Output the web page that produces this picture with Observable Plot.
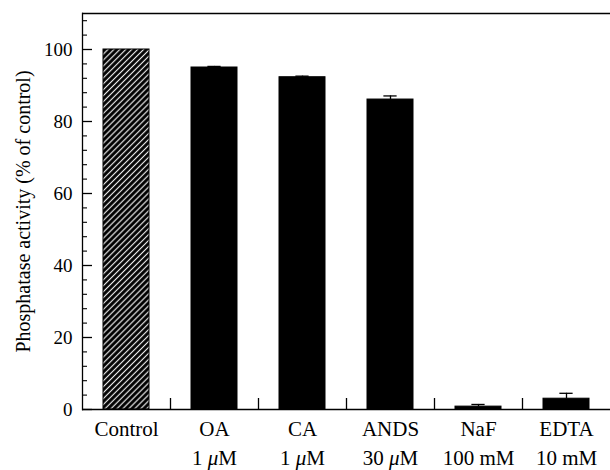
<!DOCTYPE html>
<html>
<head>
<meta charset="utf-8">
<script src="https://cdn.jsdelivr.net/npm/d3@7"></script>
<script src="https://cdn.jsdelivr.net/npm/@observablehq/plot@0.6"></script>
<style>
  body { margin: 0; background: #fff; }
  #chart svg { display: block; }
</style>
</head>
<body>
<div id="chart"></div>
<script>
// ---- data ----
const categories = ["Control", "OA", "CA", "ANDS", "NaF", "EDTA"];
const concentrations = ["", "1 μM", "1 μM", "30 μM", "100 mM", "10 mM"];
const activity = [100, 95.0, 92.3, 86.1, 0.8, 3.0];
const errorUp = [0, 0.3, 0.3, 1.0, 0.6, 1.5];
const yMajorTicks = [0, 20, 40, 60, 80, 100];
const yMinorTicks = [4, 8, 12, 16, 24, 28, 32, 36, 44, 48, 52, 56, 64, 68, 72, 76, 84, 88, 92, 96, 104, 108];
const yLabel = "Phosphatase activity (% of control)";

// ---- layout ----
const W = 610, H = 470;
const mL = 82, mR = 0, mT = 13, mB = 61;
const plotW = W - mL - mR, plotH = H - mT - mB;
const step = plotW / categories.length;
const padInner = 0.48;
const bandW = step * (1 - padInner);
const capW = 13;
const FONT = "'Liberation Serif', 'Times New Roman', serif";

const data = categories.map((c, i) => ({
  cat: c, value: activity[i], err: errorUp[i], hi: activity[i] + errorUp[i], conc: concentrations[i]
}));
const errData = data.filter(d => d.err > 0);

const chart = Plot.plot({
  width: W, height: H,
  marginLeft: mL, marginRight: mR, marginTop: mT, marginBottom: mB,
  style: { fontFamily: FONT, fontSize: "19px", color: "#000", background: "#fff" },
  x: { type: "band", domain: categories, paddingInner: padInner, paddingOuter: padInner / 2, axis: null },
  y: { domain: [0, 110], axis: null },
  marks: [
    // bars
    Plot.barY(data.filter(d => d.cat === "Control"), { x: "cat", y: "value", fill: "url(#hatch)", stroke: "#000", strokeWidth: 1 }),
    Plot.barY(data.filter(d => d.cat !== "Control"), { x: "cat", y: "value", fill: "#000", stroke: "#000", strokeWidth: 1 }),
    // error bars (upper only)
    Plot.ruleX(errData, { x: "cat", y1: "value", y2: "hi", stroke: "#000", strokeWidth: 1.3 }),
    Plot.tickY(errData, { x: "cat", y: "hi", stroke: "#000", strokeWidth: 1.3, insetLeft: (bandW - capW) / 2, insetRight: (bandW - capW) / 2 }),
    // frame: left, top, bottom
    Plot.frame({ anchor: "left", stroke: "#000", strokeWidth: 1.3 }),
    Plot.ruleY([0, 110], { stroke: "#000", strokeWidth: 1.3 }),
    // inward y ticks
    Plot.ruleY(yMajorTicks, { y: d => d, insetRight: plotW - 10, stroke: "#000", strokeWidth: 1.3 }),
    Plot.ruleY(yMinorTicks, { y: d => d, insetRight: plotW - 5, stroke: "#000", strokeWidth: 1.1 }),
    // x separator ticks
    Plot.ruleX(categories.slice(1), { x: d => d, dx: -step / 2, insetTop: plotH - 11, stroke: "#000", strokeWidth: 1.3 }),
    // y tick labels
    Plot.text(yMajorTicks, { y: d => d, text: d => String(d), frameAnchor: "left", textAnchor: "end", dx: -10, fill: "#000", fontSize: 19 }),
    // y label
    Plot.text([yLabel], { text: d => d, frameAnchor: "left", textAnchor: "middle", lineAnchor: "middle", rotate: -90, dx: -59, fill: "#000", fontSize: 20 }),
    // x labels, two lines
    Plot.text(data, { x: "cat", text: "cat", frameAnchor: "bottom", lineAnchor: "top", dy: 12, fill: "#000", fontSize: 21 }),
    Plot.text(data.filter(d => d.conc), { x: "cat", text: "conc", frameAnchor: "bottom", lineAnchor: "top", dy: 40.5, fill: "#000", fontSize: 21 })
  ]
});

// hatch pattern for the control bar
const svgSel = d3.select(chart);
const defs = svgSel.insert("defs", ":first-child");
const pat = defs.append("pattern")
  .attr("id", "hatch")
  .attr("patternUnits", "userSpaceOnUse")
  .attr("width", 4.2).attr("height", 4.2)
  .attr("patternTransform", "rotate(45)");
pat.append("rect").attr("width", 4.2).attr("height", 4.2).attr("fill", "#000");
pat.append("line").attr("x1", 2.1).attr("x2", 2.1).attr("y1", 0).attr("y2", 4.2)
  .attr("stroke", "#ececec").attr("stroke-width", 1.2);

// italic mu in unit labels
svgSel.selectAll("text").each(function () {
  const t = this.textContent;
  if (this.children.length === 0 && t.includes("μ")) {
    const parts = t.split("μ");
    const sel = d3.select(this);
    sel.text(null);
    sel.append("tspan").text(parts[0]);
    sel.append("tspan").attr("font-style", "italic").text("μ");
    sel.append("tspan").text(parts[1]);
  }
});

document.getElementById("chart").appendChild(chart);
</script>
</body>
</html>
